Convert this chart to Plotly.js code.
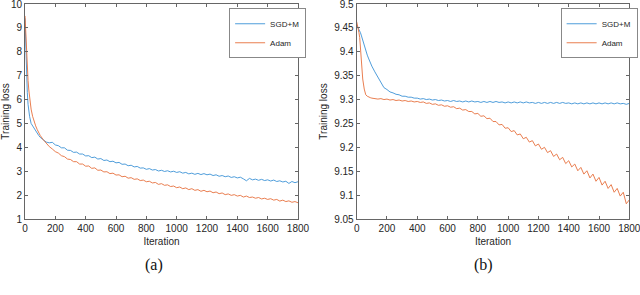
<!DOCTYPE html>
<html>
<head>
<meta charset="utf-8">
<script src="https://cdn.plot.ly/plotly-3.0.1.min.js"></script>
<style>
html,body{margin:0;padding:0;background:#fff;}
#chart{width:640px;height:295px;}
</style>
</head>
<body>
<div id="chart"></div>
<script>
// Shared iteration grid
const iterations = [0,5,10,15,20,25,30,40,50,60,70,80,90,100,
 120,140,160,180,200,220,240,260,280,300,320,340,360,380,400,420,440,460,480,500,
 520,540,560,580,600,620,640,660,680,700,720,740,760,780,800,820,840,860,880,900,
 920,940,960,980,1000,1020,1040,1060,1080,1100,1120,1140,1160,1180,1200,1220,1240,1260,1280,1300,
 1320,1340,1360,1380,1400,1420,1440,1460,1480,1500,1520,1540,1560,1580,1600,1620,1640,1660,1680,1700,
 1720,1740,1760,1780,1800];

// (a) training loss
const sgdA = [9.4,8.0,7.0,6.3,5.8,5.5,5.3,5.0,4.9,4.8,4.65,4.55,4.5,4.42,
 4.30,4.22,4.19,4.21,4.10,4.07,3.98,3.98,3.88,3.87,3.79,3.80,3.72,3.72,3.64,3.65,3.57,3.59,3.51,3.53,
 3.45,3.47,3.40,3.42,3.35,3.37,3.29,3.30,3.23,3.25,3.18,3.20,3.13,3.14,3.08,3.11,3.05,3.07,3.01,3.04,
 2.99,3.02,2.97,3.00,2.95,2.98,2.92,2.95,2.89,2.92,2.87,2.91,2.86,2.90,2.85,2.88,2.82,2.85,2.79,2.82,
 2.77,2.80,2.74,2.77,2.72,2.75,2.68,2.60,2.70,2.64,2.67,2.62,2.66,2.61,2.64,2.59,2.63,2.57,2.60,2.55,
 2.58,2.49,2.57,2.52,2.56];
const adamA = [9.5,8.6,7.8,7.2,6.8,6.4,6.1,5.6,5.3,5.05,4.9,4.75,4.6,4.5,
 4.32,4.16,4.03,3.93,3.82,3.76,3.65,3.61,3.51,3.49,3.40,3.40,3.30,3.30,3.21,3.22,3.12,3.14,3.04,3.05,
 2.97,2.98,2.90,2.92,2.84,2.85,2.77,2.79,2.71,2.73,2.66,2.68,2.61,2.63,2.56,2.58,2.51,2.53,2.45,2.48,
 2.41,2.43,2.36,2.38,2.31,2.34,2.27,2.30,2.23,2.27,2.20,2.23,2.16,2.20,2.14,2.17,2.10,2.13,2.06,2.09,
 2.02,2.05,1.99,2.02,1.96,1.99,1.92,1.96,1.90,1.92,1.87,1.90,1.84,1.87,1.82,1.85,1.79,1.82,1.75,1.79,
 1.73,1.76,1.70,1.73,1.68];

// (b) training loss
const sgdB = [9.456,9.453,9.45,9.449,9.446,9.44,9.435,9.424,9.413,9.401,9.393,9.385,9.377,9.37,
 9.358,9.346,9.335,9.325,9.321,9.316,9.314,9.311,9.310,9.307,9.307,9.305,9.305,9.303,9.303,9.301,9.302,9.300,9.301,9.299,
 9.300,9.298,9.299,9.297,9.298,9.296,9.298,9.296,9.297,9.295,9.297,9.295,9.297,9.295,9.296,9.294,9.296,9.294,9.296,9.294,
 9.296,9.294,9.295,9.293,9.295,9.293,9.295,9.293,9.295,9.293,9.295,9.293,9.294,9.292,9.294,9.292,9.294,9.292,9.294,9.292,
 9.294,9.292,9.294,9.292,9.293,9.291,9.293,9.291,9.293,9.291,9.293,9.291,9.293,9.291,9.293,9.291,9.293,9.291,9.293,9.291,
 9.293,9.291,9.292,9.290,9.292];
const adamB = [9.463,9.457,9.45,9.44,9.43,9.405,9.375,9.343,9.322,9.31,9.307,9.305,9.304,9.303,
 9.302,9.301,9.302,9.300,9.301,9.299,9.300,9.298,9.299,9.297,9.298,9.296,9.297,9.295,9.296,9.294,9.295,9.292,9.293,9.290,
 9.291,9.288,9.289,9.286,9.287,9.284,9.285,9.281,9.282,9.278,9.279,9.275,9.275,9.270,9.271,9.265,9.266,9.260,9.261,9.254,
 9.254,9.247,9.248,9.240,9.241,9.233,9.235,9.226,9.228,9.218,9.221,9.211,9.214,9.203,9.207,9.196,9.200,9.189,9.193,9.181,
 9.186,9.174,9.179,9.166,9.172,9.159,9.165,9.151,9.158,9.144,9.151,9.136,9.144,9.129,9.137,9.121,9.129,9.114,9.122,9.106,
 9.114,9.098,9.106,9.082,9.090];

const seriesNames = ['SGD+M','Adam'];
const panelLabels = ['(a)','(b)'];
const xTitle = 'Iteration';
const yTitle = 'Training loss';

const blue = '#3b92d6';
const orange = '#e66f3c';
const FONT = 'Liberation Sans, Arial, Helvetica, sans-serif';

const traces = [
  {x: iterations, y: sgdA, name: seriesNames[0], xaxis:'x', yaxis:'y', legend:'legend', mode:'lines', line:{color:blue, width:0.9}},
  {x: iterations, y: adamA, name: seriesNames[1], xaxis:'x', yaxis:'y', legend:'legend', mode:'lines', line:{color:orange, width:0.9}},
  {x: iterations, y: sgdB, name: seriesNames[0], xaxis:'x2', yaxis:'y2', legend:'legend2', mode:'lines', line:{color:blue, width:0.9}},
  {x: iterations, y: adamB, name: seriesNames[1], xaxis:'x2', yaxis:'y2', legend:'legend2', mode:'lines', line:{color:orange, width:0.9}}
];

function axisBase(){
  return {
    showgrid:false, zeroline:false, showline:true, linecolor:'#666', linewidth:1,
    mirror:'ticks', ticks:'inside', ticklen:3, tickwidth:1, tickcolor:'#666',
    ticklabeloverflow:'allow',
    tickfont:{family:FONT, size:10, color:'#262626'}
  };
}

const titleFont = {family:FONT, size:10, color:'#262626'};
const yDom = [0.2576, 0.9864];
const xa = Object.assign(axisBase(), {domain:[0.0391,0.4656], range:[0,1800], dtick:200, tick0:0, anchor:'y',
  title:{text:xTitle, font:titleFont, standoff:4}});
const xa2 = Object.assign(axisBase(), {domain:[0.5573,0.9833], range:[0,1800], dtick:200, tick0:0, anchor:'y2',
  title:{text:xTitle, font:titleFont, standoff:4}});
const ya = Object.assign(axisBase(), {domain:yDom, range:[1,10], dtick:1, tick0:0, anchor:'x',
  title:{text:yTitle, font:titleFont, standoff:4}});
const ya2 = Object.assign(axisBase(), {domain:yDom, range:[9.05,9.5], dtick:0.05, tick0:9.05, anchor:'x2',
  title:{text:yTitle, font:titleFont, standoff:4}});

function legendBox(x){
  return {x:x, y:0.972, xanchor:'left', yanchor:'top', bgcolor:'#fff', bordercolor:'#888', borderwidth:1,
    font:{family:FONT, size:8, color:'#262626'}, itemwidth:30, tracegroupgap:0, traceorder:'normal'};
}

const layout = {
  width:640, height:295,
  margin:{l:0, r:0, t:0, b:0},
  paper_bgcolor:'#fff', plot_bgcolor:'#fff',
  showlegend:true,
  xaxis:xa, yaxis:ya, xaxis2:xa2, yaxis2:ya2,
  legend:legendBox(0.358),
  legend2:legendBox(0.876),
  annotations:[
    {text:panelLabels[0], xref:'paper', yref:'paper', x:0.2406, y:0.1017, xanchor:'center', yanchor:'middle', showarrow:false,
     font:{family:'Liberation Serif, DejaVu Serif, serif', size:16, color:'#111'}},
    {text:panelLabels[1], xref:'paper', yref:'paper', x:0.7552, y:0.1017, xanchor:'center', yanchor:'middle', showarrow:false,
     font:{family:'Liberation Serif, DejaVu Serif, serif', size:16, color:'#111'}}
  ]
};

Plotly.newPlot('chart', traces, layout, {staticPlot:true, displayModeBar:false});
</script>
</body>
</html>
